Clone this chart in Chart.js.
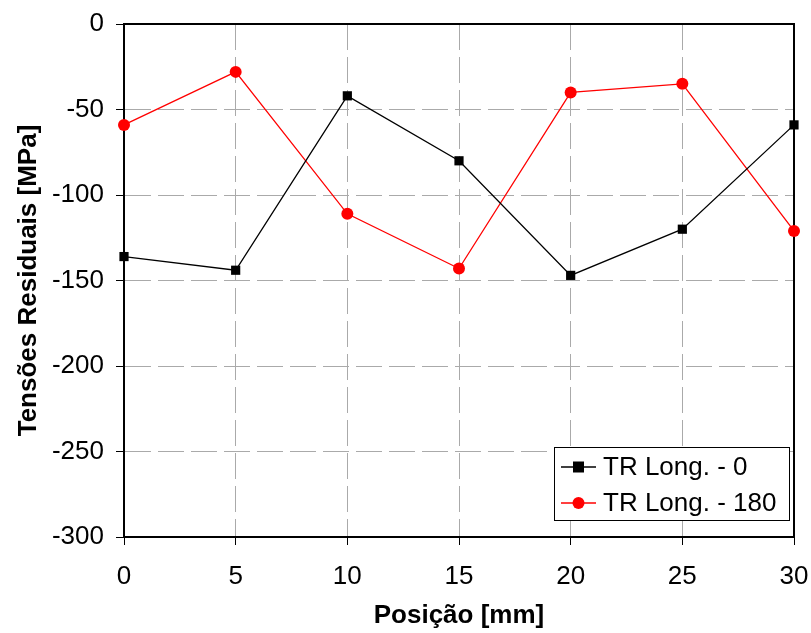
<!DOCTYPE html>
<html>
<head>
<meta charset="utf-8">
<script src="https://cdn.jsdelivr.net/npm/chart.js@4/dist/chart.umd.min.js"></script>
<style>
  html, body { margin: 0; padding: 0; background: #fff; }
  #wrap { width: 811px; height: 633px; }
</style>
</head>
<body>
<div id="wrap"><canvas id="chart1" width="811" height="633"></canvas></div>
<script>
(function(){
  'use strict';

  var positions = [0, 5, 10, 15, 20, 25, 30];
  var trLong0 = [-136, -144, -42, -80, -147, -120, -59];
  var trLong180 = [-59, -28, -111, -143, -40, -35, -121];
  var seriesNames = ['TR Long. - 0', 'TR Long. - 180'];
  var xTitle = 'Posição [mm]';
  var yTitle = 'Tensões Residuais [MPa]';

  var fontFamily = '"Liberation Sans", Arial, sans-serif';

  function toPoints(xs, ys) {
    var out = [];
    for (var i = 0; i < xs.length; i++) {
      out.push({ x: xs[i], y: ys[i] });
    }
    return out;
  }

  // frame round the plot area
  var boxPlugin = {
    id: 'boxPlugin',
    beforeDatasetsDraw: function(chart) {
      var a = chart.chartArea;
      var ctx = chart.ctx;
      ctx.save();
      ctx.strokeStyle = '#000';
      ctx.lineWidth = 2;
      ctx.strokeRect(a.left, a.top, a.right - a.left, a.bottom - a.top);
      ctx.restore();
    }
  };

  // legend box drawn inside the plot, lower right
  var legendPlugin = {
    id: 'legendPlugin',
    afterDraw: function(chart) {
      var ctx = chart.ctx;
      var x0 = 554, y0 = 447, w = 235, h = 73;
      ctx.save();
      ctx.fillStyle = '#fff';
      ctx.fillRect(x0, y0, w, h);
      ctx.strokeStyle = '#000';
      ctx.lineWidth = 1;
      ctx.strokeRect(x0 + 0.5, y0 + 0.5, w, h);
      ctx.font = '26px ' + fontFamily;
      ctx.textBaseline = 'middle';
      chart.data.datasets.forEach(function(ds, i) {
        var cy = y0 + 20 + i * 36;
        ctx.strokeStyle = ds.borderColor;
        ctx.lineWidth = 1.3;
        ctx.beginPath();
        ctx.moveTo(x0 + 7, cy);
        ctx.lineTo(x0 + 42, cy);
        ctx.stroke();
        ctx.fillStyle = ds.backgroundColor;
        if (ds.pointStyle === 'rect') {
          ctx.fillRect(x0 + 19, cy - 5.5, 11, 11);
        } else {
          ctx.beginPath();
          ctx.arc(x0 + 24.5, cy, 6, 0, Math.PI * 2);
          ctx.fill();
        }
        ctx.fillStyle = '#000';
        ctx.fillText(ds.label, x0 + 49, cy + 1);
      });
      ctx.restore();
    }
  };

  var c1 = document.getElementById('chart1');

  var chart1 = new Chart(c1, {
    type: 'line',
    data: {
      datasets: [{
        label: seriesNames[0],
        data: toPoints(positions, trLong0),
        borderColor: '#000',
        backgroundColor: '#000',
        borderWidth: 1.3,
        pointStyle: 'rect',
        pointRadius: 6.5,
        pointBorderWidth: 0,
        tension: 0,
        clip: false
      }, {
        label: seriesNames[1],
        data: toPoints(positions, trLong180),
        borderColor: '#ff0000',
        backgroundColor: '#ff0000',
        borderWidth: 1.3,
        pointStyle: 'circle',
        pointRadius: 6,
        pointBorderWidth: 0,
        tension: 0,
        clip: false
      }]
    },
    options: {
      responsive: false,
      animation: false,
      devicePixelRatio: 1,
      layout: {
        padding: { top: 24, right: 17, left: 0, bottom: 0 }
      },
      plugins: {
        legend: { display: false },
        tooltip: { enabled: false }
      },
      scales: {
        x: {
          type: 'linear',
          min: 0,
          max: 30,
          afterFit: function(scale) {
            scale.height = 96;
            scale.paddingLeft = 0;
            scale.paddingRight = 0;
          },
          grid: {
            color: '#aaa',
            lineWidth: 1,
            tickLength: 8,
            tickColor: '#000',
            drawTicks: true
          },
          border: { display: true, color: '#000', width: 2, dash: [26, 7] },
          ticks: {
            stepSize: 5,
            color: '#000',
            padding: 16,
            font: { family: fontFamily, size: 26 }
          },
          title: {
            display: true,
            text: xTitle,
            color: '#000',
            padding: { top: 4, bottom: 2 },
            font: { family: fontFamily, size: 26, weight: 'bold' }
          }
        },
        y: {
          min: -300,
          max: 0,
          afterFit: function(scale) {
            scale.width = 124;
            scale.paddingTop = 0;
            scale.paddingBottom = 0;
          },
          grid: {
            color: '#aaa',
            lineWidth: 1,
            tickLength: 8,
            tickColor: '#000',
            drawTicks: true
          },
          border: { display: true, color: '#000', width: 2, dash: [26, 7] },
          ticks: {
            stepSize: 50,
            color: '#000',
            padding: 12,
            font: { family: fontFamily, size: 26 }
          },
          title: {
            display: true,
            text: yTitle,
            color: '#000',
            padding: { top: 13, bottom: 4 },
            font: { family: fontFamily, size: 26, weight: 'bold' }
          }
        }
      }
    },
    plugins: [boxPlugin, legendPlugin]
  });

}());
</script>
</body>
</html>
